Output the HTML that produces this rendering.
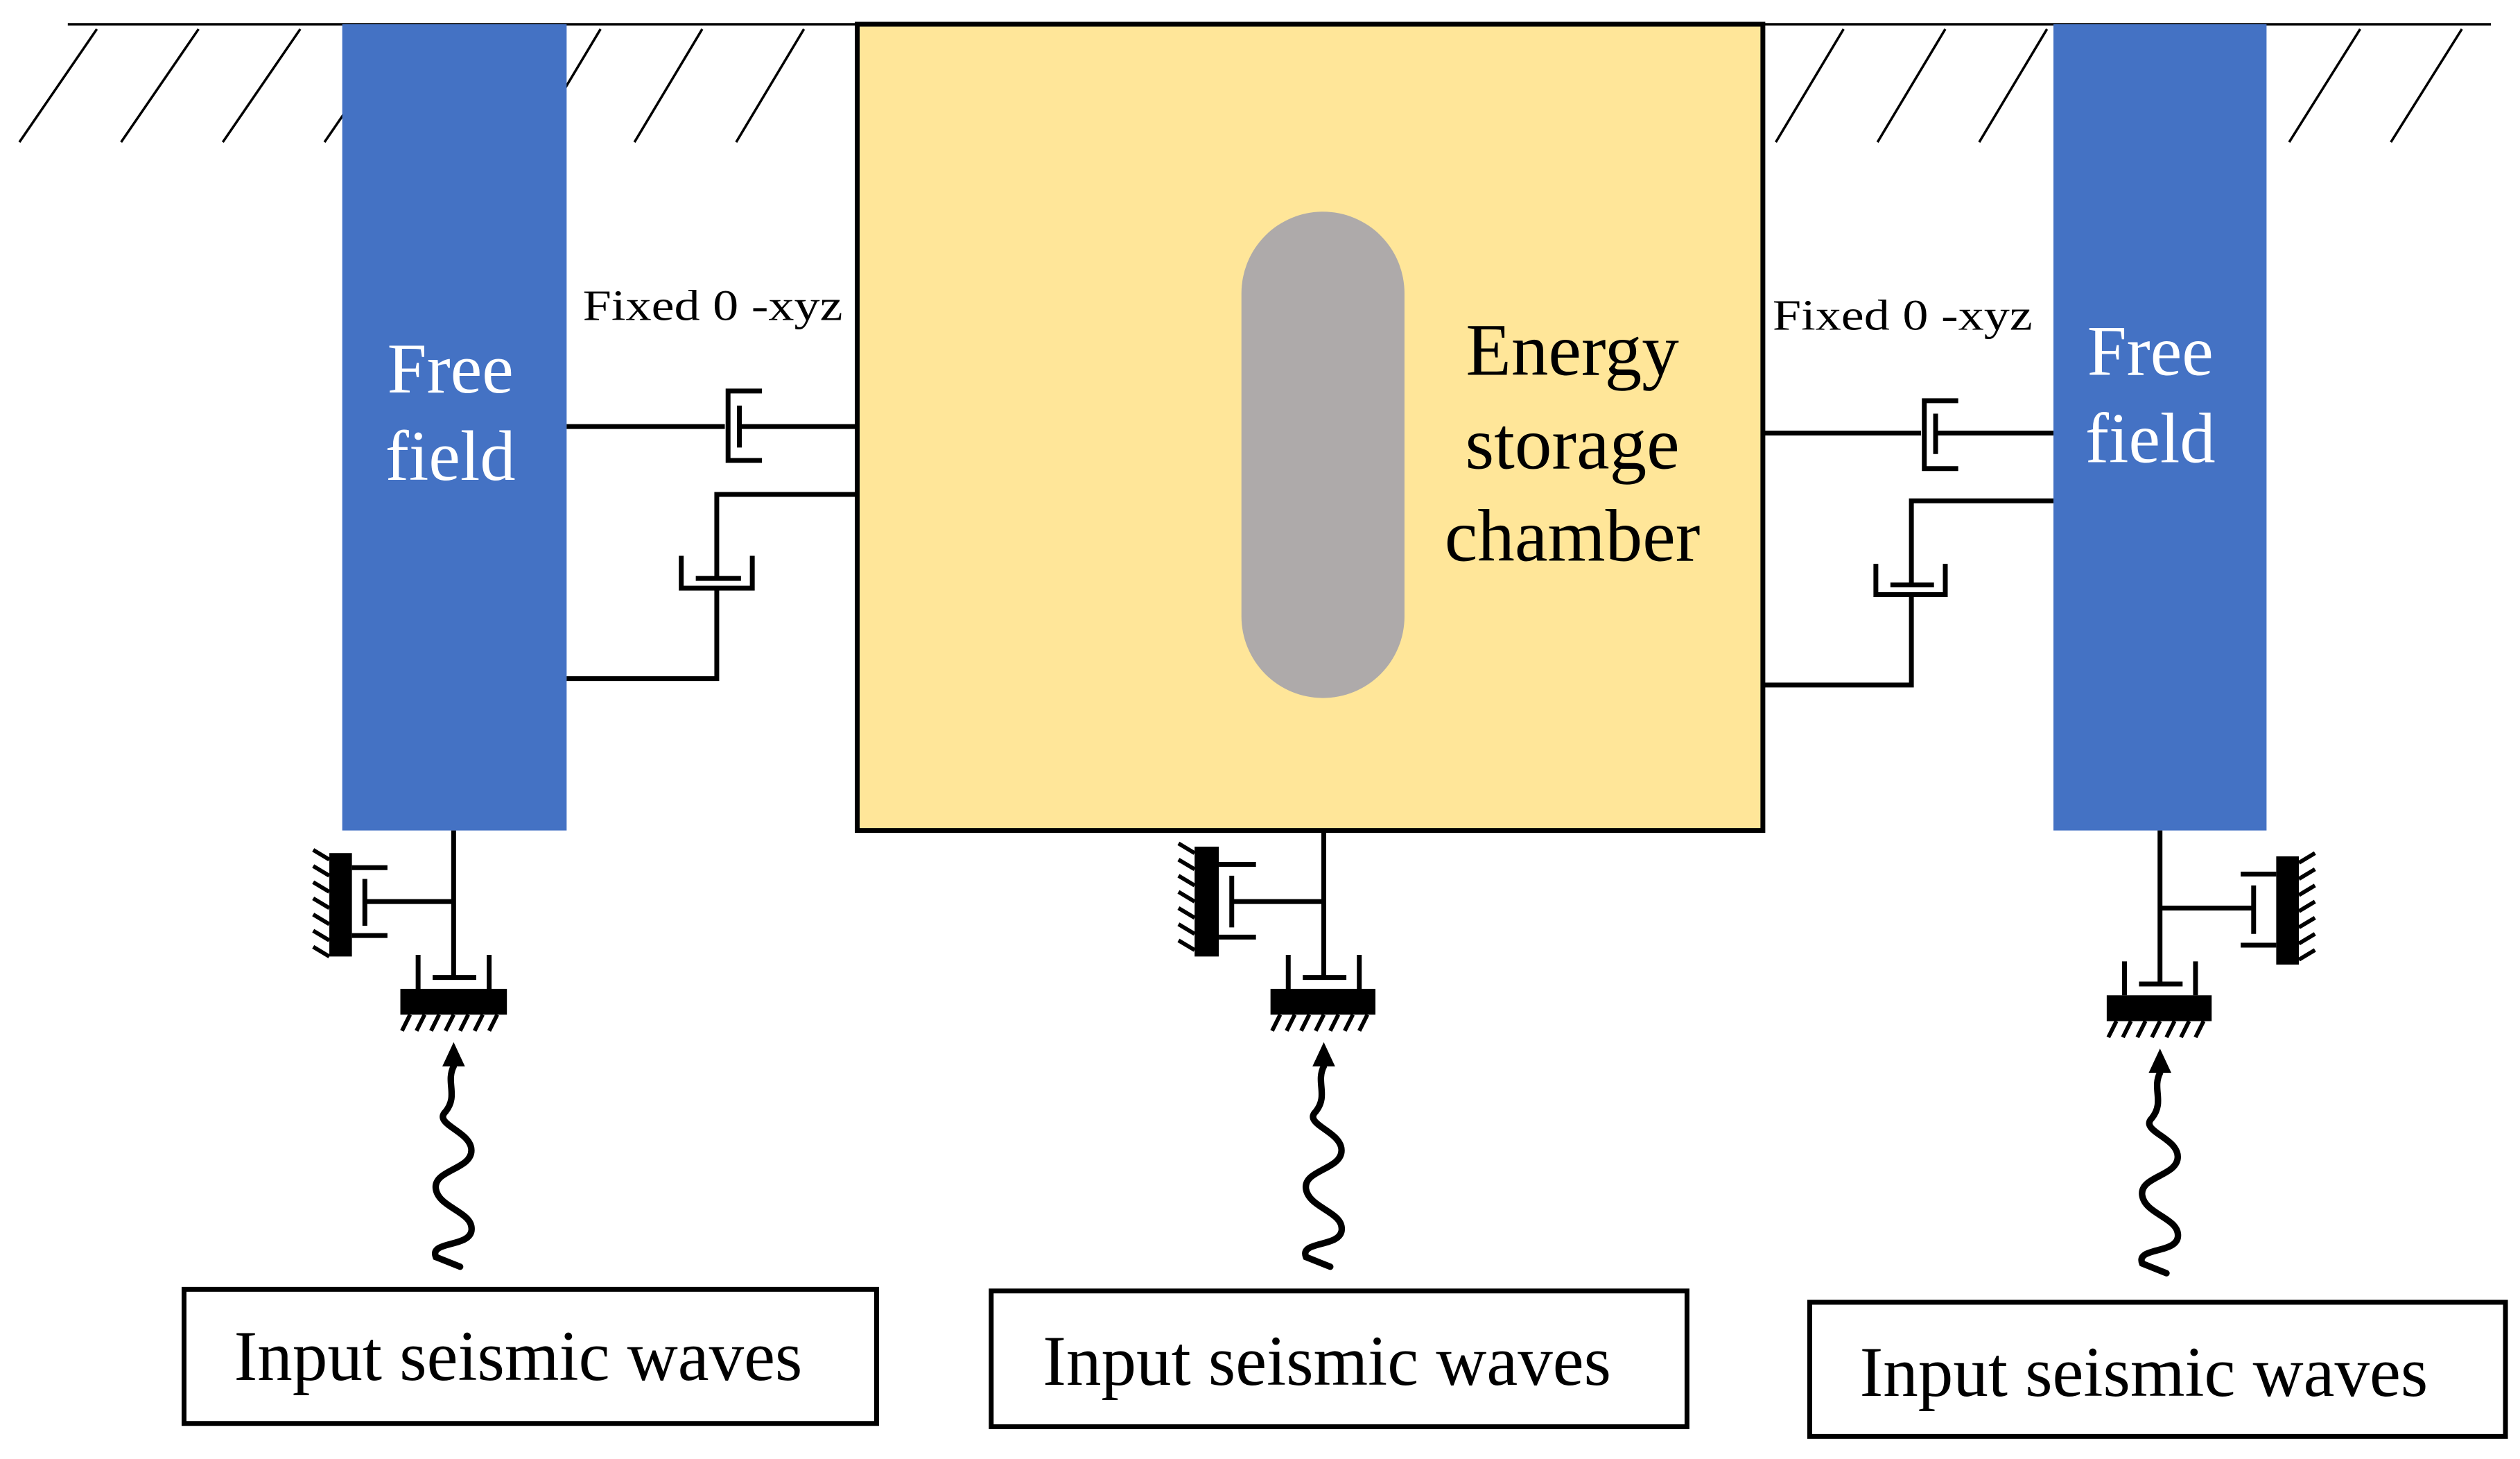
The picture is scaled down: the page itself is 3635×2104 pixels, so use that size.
<!DOCTYPE html>
<html><head><meta charset="utf-8"><style>html,body{margin:0;padding:0;background:#fff}svg{display:block}</style></head>
<body>
<svg width="3635" height="2104" viewBox="0 0 1561 903" preserveAspectRatio="none" xmlns="http://www.w3.org/2000/svg">
<g stroke="#000" stroke-width="1.5" fill="none">
<line x1="42" y1="15" x2="1543" y2="15"/>
<line x1="12" y1="88" x2="60" y2="18"/>
<line x1="75" y1="88" x2="123" y2="18"/>
<line x1="138" y1="88" x2="186" y2="18"/>
<line x1="201" y1="88" x2="249" y2="18"/>
<line x1="330" y1="88" x2="372" y2="18"/>
<line x1="393" y1="88" x2="435" y2="18"/>
<line x1="456" y1="88" x2="498" y2="18"/>
<line x1="1100" y1="88" x2="1142" y2="18"/>
<line x1="1163" y1="88" x2="1205" y2="18"/>
<line x1="1226" y1="88" x2="1268" y2="18"/>
<line x1="1418" y1="88" x2="1462" y2="18"/>
<line x1="1481" y1="88" x2="1525" y2="18"/>
</g>
<rect x="212" y="15" width="139" height="499" fill="#4472C4"/>
<rect x="1272" y="15" width="132" height="499" fill="#4472C4"/>
<rect x="531" y="15" width="561" height="499" fill="#FFE699" stroke="#000" stroke-width="3"/>
<rect x="769" y="131" width="101" height="301" rx="50.5" fill="#AEAAAA"/>
<g font-family="Liberation Serif, serif" text-anchor="middle">
<text x="279" y="243" font-size="44" fill="#fff">Free</text>
<text x="279" y="297" font-size="44" fill="#fff">field</text>
<text x="1332" y="232" font-size="44" fill="#fff">Free</text>
<text x="1332" y="286" font-size="44" fill="#fff">field</text>
<text x="974" y="232" font-size="46">Energy</text>
<text x="974" y="290" font-size="46">storage</text>
<text x="974" y="347" font-size="46">chamber</text>
</g>
<g font-family="Liberation Serif, serif" font-size="27">
<text x="361" y="198" textLength="161" lengthAdjust="spacingAndGlyphs">Fixed 0 -xyz</text>
<text x="1098" y="204" textLength="161" lengthAdjust="spacingAndGlyphs">Fixed 0 -xyz</text>
</g>
<g stroke="#000" stroke-width="3" fill="none">
<line x1="351" y1="264" x2="449" y2="264"/>
<line x1="458" y1="264" x2="531" y2="264"/>
<polyline points="472,242 451,242 451,285 472,285"/>
<line x1="458" y1="251" x2="458" y2="277"/>
<polyline points="531,306 444,306 444,358"/>
<line x1="431" y1="358" x2="459" y2="358"/>
<polyline points="422,344 422,364 466,364 466,344"/>
<polyline points="444,364 444,420 351,420"/>
<line x1="1092" y1="268" x2="1190" y2="268"/>
<line x1="1199" y1="268" x2="1272" y2="268"/>
<polyline points="1213,248 1192,248 1192,290 1213,290"/>
<line x1="1199" y1="256" x2="1199" y2="281"/>
<polyline points="1272,310 1184,310 1184,362"/>
<line x1="1171" y1="362" x2="1198" y2="362"/>
<polyline points="1162,349 1162,368 1205,368 1205,349"/>
<polyline points="1184,368 1184,424 1092,424"/>
</g>
<g stroke="#000" stroke-width="3" fill="none">
<line x1="281" y1="514" x2="281" y2="605"/>
<line x1="226" y1="558" x2="281" y2="558"/>
<line x1="218" y1="537" x2="240" y2="537"/>
<line x1="218" y1="579" x2="240" y2="579"/>
<line x1="226" y1="544" x2="226" y2="573"/>
<line x1="268" y1="605" x2="295" y2="605"/>
<line x1="259" y1="591" x2="259" y2="612"/>
<line x1="303" y1="591" x2="303" y2="612"/>
<line x1="820" y1="514" x2="820" y2="605"/>
<line x1="763" y1="558" x2="820" y2="558"/>
<line x1="755" y1="535" x2="778" y2="535"/>
<line x1="755" y1="580" x2="778" y2="580"/>
<line x1="763" y1="542" x2="763" y2="574"/>
<line x1="807" y1="605" x2="834" y2="605"/>
<line x1="798" y1="591" x2="798" y2="612"/>
<line x1="842" y1="591" x2="842" y2="612"/>
<line x1="1338" y1="514" x2="1338" y2="609"/>
<line x1="1338" y1="562" x2="1396" y2="562"/>
<line x1="1388" y1="541" x2="1410" y2="541"/>
<line x1="1388" y1="585" x2="1410" y2="585"/>
<line x1="1396" y1="548" x2="1396" y2="578"/>
<line x1="1325" y1="609" x2="1352" y2="609"/>
<line x1="1316" y1="595" x2="1316" y2="616"/>
<line x1="1360" y1="595" x2="1360" y2="616"/>
</g>
<g fill="#000">
<rect x="204" y="528" width="14" height="64"/>
<rect x="740" y="524" width="15" height="68"/>
<rect x="1410" y="530" width="14" height="67"/>
<rect x="248" y="612" width="66" height="16"/>
<rect x="787" y="612" width="65" height="16"/>
<rect x="1305" y="616" width="65" height="16"/>
</g>
<g stroke="#000" stroke-width="2.5">
<path d="M204,532 l-10,-6 M204,542 l-10,-6 M204,552 l-10,-6 M204,562 l-10,-6 M204,572 l-10,-6 M204,582 l-10,-6 M204,592 l-10,-6"/>
<path d="M740,528 l-10,-6 M740,538 l-10,-6 M740,548 l-10,-6 M740,558 l-10,-6 M740,568 l-10,-6 M740,578 l-10,-6 M740,588 l-10,-6"/>
<path d="M1424,534 l10,-6 M1424,544 l10,-6 M1424,554 l10,-6 M1424,564 l10,-6 M1424,574 l10,-6 M1424,584 l10,-6 M1424,594 l10,-6"/>
<path d="M254,628 l-5,10 M263,628 l-5,10 M272,628 l-5,10 M281,628 l-5,10 M290,628 l-5,10 M299,628 l-5,10 M308,628 l-5,10"/>
<path d="M793,628 l-5,10 M802,628 l-5,10 M811,628 l-5,10 M820,628 l-5,10 M829,628 l-5,10 M838,628 l-5,10 M847,628 l-5,10"/>
<path d="M1311,632 l-5,10 M1320,632 l-5,10 M1329,632 l-5,10 M1338,632 l-5,10 M1347,632 l-5,10 M1356,632 l-5,10 M1365,632 l-5,10"/>
</g>
<g fill="#000">
<polygon points="281,645 274,660 288,660"/>
<polygon points="820,645 813,660 827,660"/>
<polygon points="1338,649 1331,664 1345,664"/>
</g>
<g stroke="#000" stroke-width="4" fill="none" stroke-linecap="round">
<path d="M281,660 C276,670 284,678 276,688 C268,696 292,700 292,712 C292,724 268,724 270,736 C272,748 294,750 292,762 C290,772 266,768 270,778 L285,784"/>
<path d="M820,660 C815,670 823,678 815,688 C807,696 831,700 831,712 C831,724 807,724 809,736 C811,748 833,750 831,762 C829,772 805,768 809,778 L824,784"/>
<path d="M1338,664 C1333,674 1341,682 1333,692 C1325,700 1349,704 1349,716 C1349,728 1325,728 1327,740 C1329,752 1351,754 1349,766 C1347,776 1323,772 1327,782 L1342,788"/>
</g>
<g fill="#fff" stroke="#000" stroke-width="3">
<rect x="114" y="798" width="429" height="83"/>
<rect x="614" y="799" width="431" height="84"/>
<rect x="1121" y="806" width="431" height="83"/>
</g>
<g font-family="Liberation Serif, serif" font-size="44">
<text x="145" y="854" textLength="352" lengthAdjust="spacingAndGlyphs">Input seismic waves</text>
<text x="646" y="857" textLength="352" lengthAdjust="spacingAndGlyphs">Input seismic waves</text>
<text x="1152" y="864" textLength="352" lengthAdjust="spacingAndGlyphs">Input seismic waves</text>
</g>
</svg>
</body></html>
